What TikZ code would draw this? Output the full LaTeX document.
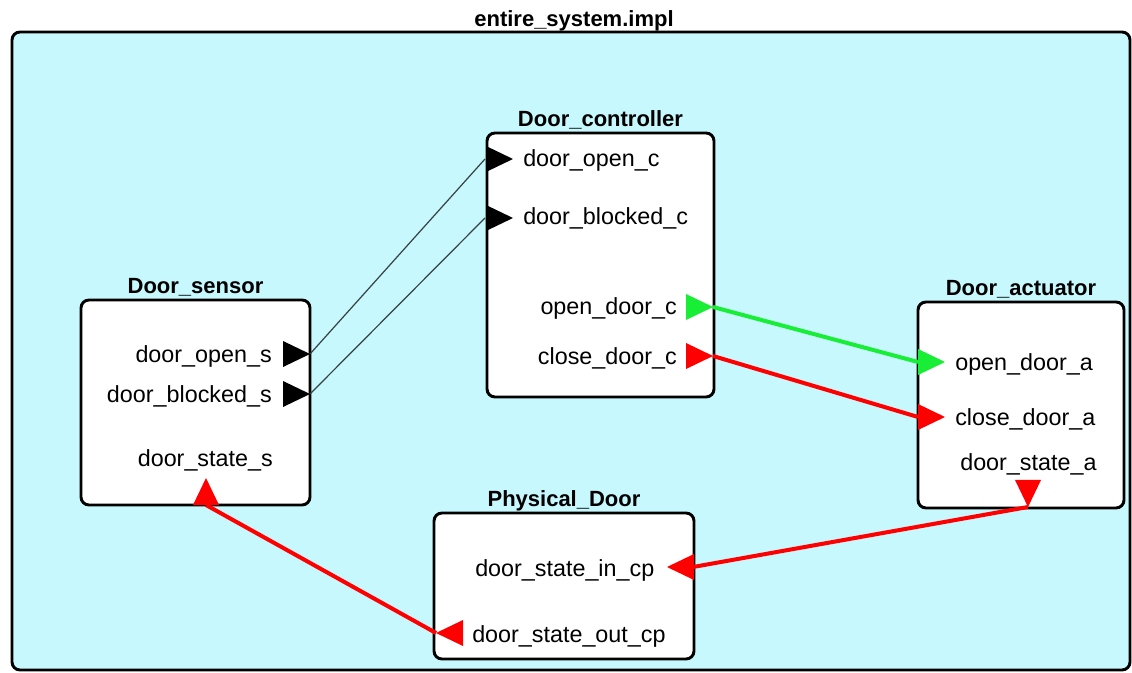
\documentclass[tikz,border=0pt]{standalone}
\usepackage{fontspec}
\setmainfont{Liberation Sans}
\usetikzlibrary{fit}
\definecolor{canvas}{RGB}{198,248,254}
\definecolor{flowgreen}{RGB}{24,238,54}
\definecolor{flowred}{RGB}{255,0,0}
\definecolor{wire}{RGB}{55,65,65}
\tikzset{
  block/.style={draw=black, fill=white, line width=2.2pt, rounded corners=6pt, inner sep=0pt},
  frame/.style={draw=black, fill=canvas, line width=2.2pt, rounded corners=6pt, inner sep=0pt},
  title/.style={font=\fontsize{16.5pt}{19pt}\selectfont\bfseries, inner sep=0pt, anchor=base},
  portlabel/.style={font=\fontsize{17.5pt}{20pt}\selectfont, inner sep=0pt},
  thinwire/.style={draw=wire, line width=0.9pt},
  greenflow/.style={draw=flowgreen, line width=3pt},
  redflow/.style={draw=flowred, line width=3pt},
  port/.pic={\fill (0,0) -- (-27,-13) -- (-27,13) -- cycle;}
}
\begin{document}
\begin{tikzpicture}[x=0.75pt, y=-0.75pt]
  \useasboundingbox (0,0) rectangle (1132,673);

  % system frame and its name
  \node[frame, fit={(12,32) (1130,670)}] (system) {};
  \node[title] (systemname) at (574,27) {entire\_system.impl};

  % components
  \node[block, fit={(81,300) (310,505)}] (sensor) {};
  \node[block, fit={(487,133) (714,397)}] (controller) {};
  \node[block, fit={(918,302) (1124,508)}] (actuator) {};
  \node[block, fit={(434,513) (694,659)}] (door) {};

  \node[title] (sensorname) at (sensor.north |- 0,294) {Door\_sensor};
  \node[title] (controllername) at (controller.north |- 0,127) {Door\_controller};
  \node[title] (actuatorname) at (actuator.north |- 0,296) {Door\_actuator};
  \node[title] (doorname) at (door.north |- 0,507) {Physical\_Door};

  % port labels
  \node[portlabel, anchor=base east] (ls1) at (272,363) {door\_open\_s};
  \node[portlabel, anchor=base east] (ls2) at (272,403) {door\_blocked\_s};
  \node[portlabel, anchor=base east] (ls3) at (273,467) {door\_state\_s};

  \node[portlabel, anchor=base west] (lc1) at (523,167) {door\_open\_c};
  \node[portlabel, anchor=base west] (lc2) at (523,225) {door\_blocked\_c};
  \node[portlabel, anchor=base east] (lc3) at (677,315) {open\_door\_c};
  \node[portlabel, anchor=base east] (lc4) at (677,365) {close\_door\_c};

  \node[portlabel, anchor=base west] (la1) at (955,371) {open\_door\_a};
  \node[portlabel, anchor=base west] (la2) at (955,426) {close\_door\_a};
  \node[portlabel, anchor=base west] (la3) at (960,470) {door\_state\_a};

  \node[portlabel, anchor=base west] (ld1) at (475,576) {door\_state\_in\_cp};
  \node[portlabel, anchor=base west] (ld2) at (472,642) {door\_state\_out\_cp};

  % port connection points
  \coordinate (sOpen) at (310,354);
  \coordinate (sBlocked) at (310,394);
  \coordinate (sState) at (206,505);
  \coordinate (cOpen) at (485,159);
  \coordinate (cBlocked) at (485,218);
  \coordinate (cOpenDoor) at (713,307);
  \coordinate (cCloseDoor) at (713,356);
  \coordinate (aOpen) at (918,362);
  \coordinate (aClose) at (918,417);
  \coordinate (aState) at (1028,507);
  \coordinate (dIn) at (693,567);
  \coordinate (dOut) at (436,633);

  % connections
  \draw[thinwire] (sOpen) -- (cOpen);
  \draw[thinwire] (sBlocked) -- (cBlocked);
  \draw[greenflow] (cOpenDoor) -- (aOpen);
  \draw[redflow] (cCloseDoor) -- (aClose);
  \draw[redflow] (aState) -- (dIn);
  \draw[redflow] (dOut) -- (sState);

  % port markers
  \pic[black] at (sOpen) {port};
  \pic[black] at (sBlocked) {port};
  \pic[flowred, rotate=90] at (206,478) {port};
  \pic[black] at (513,159) {port};
  \pic[black] at (513,218) {port};
  \pic[flowgreen] at (cOpenDoor) {port};
  \pic[flowred] at (cCloseDoor) {port};
  \pic[flowgreen] at (945,362) {port};
  \pic[flowred] at (945,417) {port};
  \pic[flowred, rotate=-90] at (aState) {port};
  \pic[flowred, rotate=180] at (667,567) {port};
  \pic[flowred, rotate=180] at (dOut) {port};
\end{tikzpicture}
\end{document}
